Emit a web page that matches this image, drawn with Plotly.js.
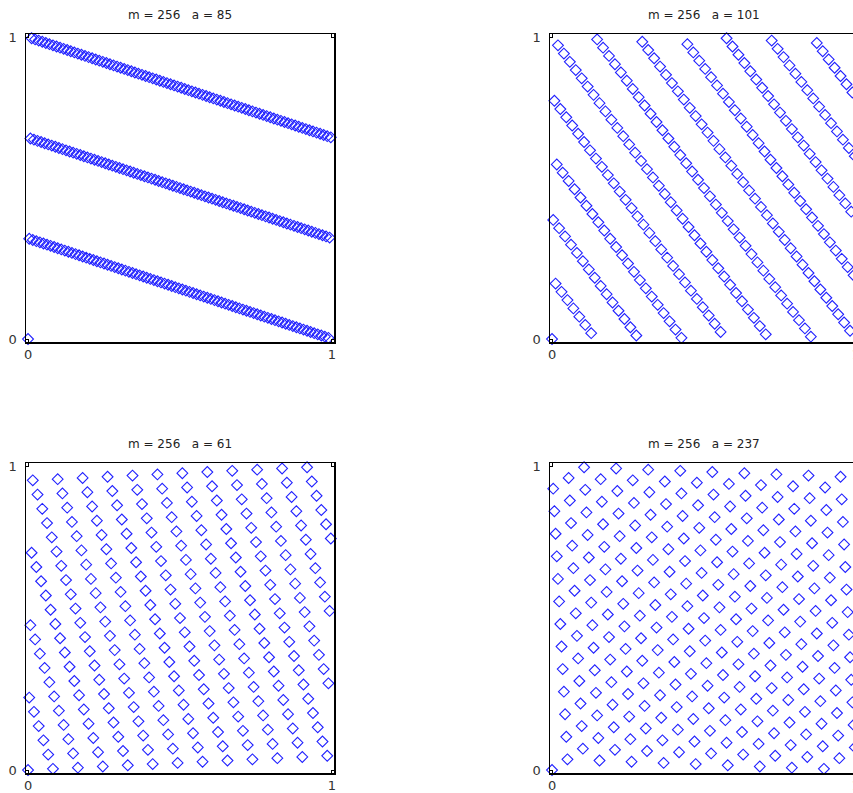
<!DOCTYPE html>
<html>
<head>
<meta charset="utf-8">
<script src="https://cdn.plot.ly/plotly-3.0.1.min.js"></script>
<style>
html, body { margin: 0; padding: 0; overflow: hidden; background: #fff; }
#chart { width: 880px; height: 793px; }
</style>
</head>
<body>
<div id="chart"></div>
<script>
// Modulus and multipliers shown in the panel titles
const M = 256;
const multipliers = [85, 101, 61, 237];

// x_n (integers 0..255), shared by all panels
const X = [0,1,2,3,4,5,6,7,8,9,10,11,12,13,14,15,16,17,18,19,20,21,22,23,24,25,26,27,28,29,30,31,32,33,34,35,36,37,38,39,40,41,42,43,44,45,46,47,48,49,50,51,52,53,54,55,56,57,58,59,60,61,62,63,64,65,66,67,68,69,70,71,72,73,74,75,76,77,78,79,80,81,82,83,84,85,86,87,88,89,90,91,92,93,94,95,96,97,98,99,100,101,102,103,104,105,106,107,108,109,110,111,112,113,114,115,116,117,118,119,120,121,122,123,124,125,126,127,128,129,130,131,132,133,134,135,136,137,138,139,140,141,142,143,144,145,146,147,148,149,150,151,152,153,154,155,156,157,158,159,160,161,162,163,164,165,166,167,168,169,170,171,172,173,174,175,176,177,178,179,180,181,182,183,184,185,186,187,188,189,190,191,192,193,194,195,196,197,198,199,200,201,202,203,204,205,206,207,208,209,210,211,212,213,214,215,216,217,218,219,220,221,222,223,224,225,226,227,228,229,230,231,232,233,234,235,236,237,238,239,240,241,242,243,244,245,246,247,248,249,250,251,252,253,254,255];

// x_{n+1} for a = 85
const Y85 = [0,85,170,255,84,169,254,83,168,253,82,167,252,81,166,251,80,165,250,79,164,249,78,163,248,77,162,247,76,161,246,75,160,245,74,159,244,73,158,243,72,157,242,71,156,241,70,155,240,69,154,239,68,153,238,67,152,237,66,151,236,65,150,235,64,149,234,63,148,233,62,147,232,61,146,231,60,145,230,59,144,229,58,143,228,57,142,227,56,141,226,55,140,225,54,139,224,53,138,223,52,137,222,51,136,221,50,135,220,49,134,219,48,133,218,47,132,217,46,131,216,45,130,215,44,129,214,43,128,213,42,127,212,41,126,211,40,125,210,39,124,209,38,123,208,37,122,207,36,121,206,35,120,205,34,119,204,33,118,203,32,117,202,31,116,201,30,115,200,29,114,199,28,113,198,27,112,197,26,111,196,25,110,195,24,109,194,23,108,193,22,107,192,21,106,191,20,105,190,19,104,189,18,103,188,17,102,187,16,101,186,15,100,185,14,99,184,13,98,183,12,97,182,11,96,181,10,95,180,9,94,179,8,93,178,7,92,177,6,91,176,5,90,175,4,89,174,3,88,173,2,87,172,1,86,171];

// x_{n+1} for a = 101
const Y101 = [0,101,202,47,148,249,94,195,40,141,242,87,188,33,134,235,80,181,26,127,228,73,174,19,120,221,66,167,12,113,214,59,160,5,106,207,52,153,254,99,200,45,146,247,92,193,38,139,240,85,186,31,132,233,78,179,24,125,226,71,172,17,118,219,64,165,10,111,212,57,158,3,104,205,50,151,252,97,198,43,144,245,90,191,36,137,238,83,184,29,130,231,76,177,22,123,224,69,170,15,116,217,62,163,8,109,210,55,156,1,102,203,48,149,250,95,196,41,142,243,88,189,34,135,236,81,182,27,128,229,74,175,20,121,222,67,168,13,114,215,60,161,6,107,208,53,154,255,100,201,46,147,248,93,194,39,140,241,86,187,32,133,234,79,180,25,126,227,72,173,18,119,220,65,166,11,112,213,58,159,4,105,206,51,152,253,98,199,44,145,246,91,192,37,138,239,84,185,30,131,232,77,178,23,124,225,70,171,16,117,218,63,164,9,110,211,56,157,2,103,204,49,150,251,96,197,42,143,244,89,190,35,136,237,82,183,28,129,230,75,176,21,122,223,68,169,14,115,216,61,162,7,108,209,54,155];

// x_{n+1} for a = 61
const Y61 = [0,61,122,183,244,49,110,171,232,37,98,159,220,25,86,147,208,13,74,135,196,1,62,123,184,245,50,111,172,233,38,99,160,221,26,87,148,209,14,75,136,197,2,63,124,185,246,51,112,173,234,39,100,161,222,27,88,149,210,15,76,137,198,3,64,125,186,247,52,113,174,235,40,101,162,223,28,89,150,211,16,77,138,199,4,65,126,187,248,53,114,175,236,41,102,163,224,29,90,151,212,17,78,139,200,5,66,127,188,249,54,115,176,237,42,103,164,225,30,91,152,213,18,79,140,201,6,67,128,189,250,55,116,177,238,43,104,165,226,31,92,153,214,19,80,141,202,7,68,129,190,251,56,117,178,239,44,105,166,227,32,93,154,215,20,81,142,203,8,69,130,191,252,57,118,179,240,45,106,167,228,33,94,155,216,21,82,143,204,9,70,131,192,253,58,119,180,241,46,107,168,229,34,95,156,217,22,83,144,205,10,71,132,193,254,59,120,181,242,47,108,169,230,35,96,157,218,23,84,145,206,11,72,133,194,255,60,121,182,243,48,109,170,231,36,97,158,219,24,85,146,207,12,73,134,195];

// x_{n+1} for a = 237
const Y237 = [0,237,218,199,180,161,142,123,104,85,66,47,28,9,246,227,208,189,170,151,132,113,94,75,56,37,18,255,236,217,198,179,160,141,122,103,84,65,46,27,8,245,226,207,188,169,150,131,112,93,74,55,36,17,254,235,216,197,178,159,140,121,102,83,64,45,26,7,244,225,206,187,168,149,130,111,92,73,54,35,16,253,234,215,196,177,158,139,120,101,82,63,44,25,6,243,224,205,186,167,148,129,110,91,72,53,34,15,252,233,214,195,176,157,138,119,100,81,62,43,24,5,242,223,204,185,166,147,128,109,90,71,52,33,14,251,232,213,194,175,156,137,118,99,80,61,42,23,4,241,222,203,184,165,146,127,108,89,70,51,32,13,250,231,212,193,174,155,136,117,98,79,60,41,22,3,240,221,202,183,164,145,126,107,88,69,50,31,12,249,230,211,192,173,154,135,116,97,78,59,40,21,2,239,220,201,182,163,144,125,106,87,68,49,30,11,248,229,210,191,172,153,134,115,96,77,58,39,20,1,238,219,200,181,162,143,124,105,86,67,48,29,10,247,228,209,190,171,152,133,114,95,76,57,38,19];

// Tick labels
const tickVals = [0, M];
const tickText = ['0', '1'];

const seriesY = [Y85, Y101, Y61, Y237];

const W = 880, H = 793;
const px = (a, b) => [a / W, b / W];
const py = (top, bottom) => [(H - bottom) / H, (H - top) / H];

const xDomains = [px(26, 334), px(550, 858), px(26, 334), px(550, 858)];
const yDomains = [py(34, 342), py(34, 342), py(463, 773), py(463, 773)];
const titleY = [15, 15, 444, 444];

const blue = '#2020ff';
const traces = [];
const layout = {
  width: W, height: H,
  margin: {l: 0, r: 0, t: 0, b: 0},
  paper_bgcolor: '#ffffff',
  plot_bgcolor: '#ffffff',
  showlegend: false,
  annotations: []
};

function axisCommon(range) {
  return {
    range: range,
    tickmode: 'array',
    tickvals: tickVals,
    ticktext: tickText,
    showgrid: false,
    zeroline: false,
    showline: true,
    mirror: 'ticks',
    linecolor: '#000000',
    linewidth: 1.5,
    ticks: 'inside',
    ticklen: 3,
    tickwidth: 1,
    tickcolor: '#000000',
    tickfont: {family: 'DejaVu Sans, Liberation Sans, sans-serif', size: 13, color: '#333333'},
    fixedrange: true
  };
}

for (let p = 0; p < 4; p++) {
  const n = p + 1;
  const xa = n === 1 ? 'x' : 'x' + n;
  const ya = n === 1 ? 'y' : 'y' + n;
  traces.push({
    type: 'scatter',
    mode: 'markers',
    x: X,
    y: seriesY[p],
    xaxis: xa,
    yaxis: ya,
    cliponaxis: false,
    hoverinfo: 'skip',
    marker: {symbol: 'diamond-open', size: 8.3, color: blue, line: {width: 1.1, color: blue}}
  });
  const xKey = n === 1 ? 'xaxis' : 'xaxis' + n;
  const yKey = n === 1 ? 'yaxis' : 'yaxis' + n;
  layout[xKey] = Object.assign(axisCommon([-1.7, 257.7]), {
    domain: xDomains[p], anchor: ya, ticklabelstandoff: 0
  });
  layout[yKey] = Object.assign(axisCommon([-2.5, 258.6]), {
    domain: yDomains[p], anchor: xa, ticklabelstandoff: 5
  });
  layout.annotations.push({
    xref: 'paper', yref: 'paper',
    x: (xDomains[p][0] + xDomains[p][1]) / 2,
    y: (H - titleY[p]) / H,
    xanchor: 'center', yanchor: 'middle',
    showarrow: false,
    text: 'm = ' + M + '\u00a0\u00a0\u00a0a = ' + multipliers[p],
    font: {family: 'DejaVu Sans, Liberation Sans, sans-serif', size: 12, color: '#222222'}
  });
}

Plotly.newPlot('chart', traces, layout, {staticPlot: true, displayModeBar: false});
</script>
</body>
</html>
